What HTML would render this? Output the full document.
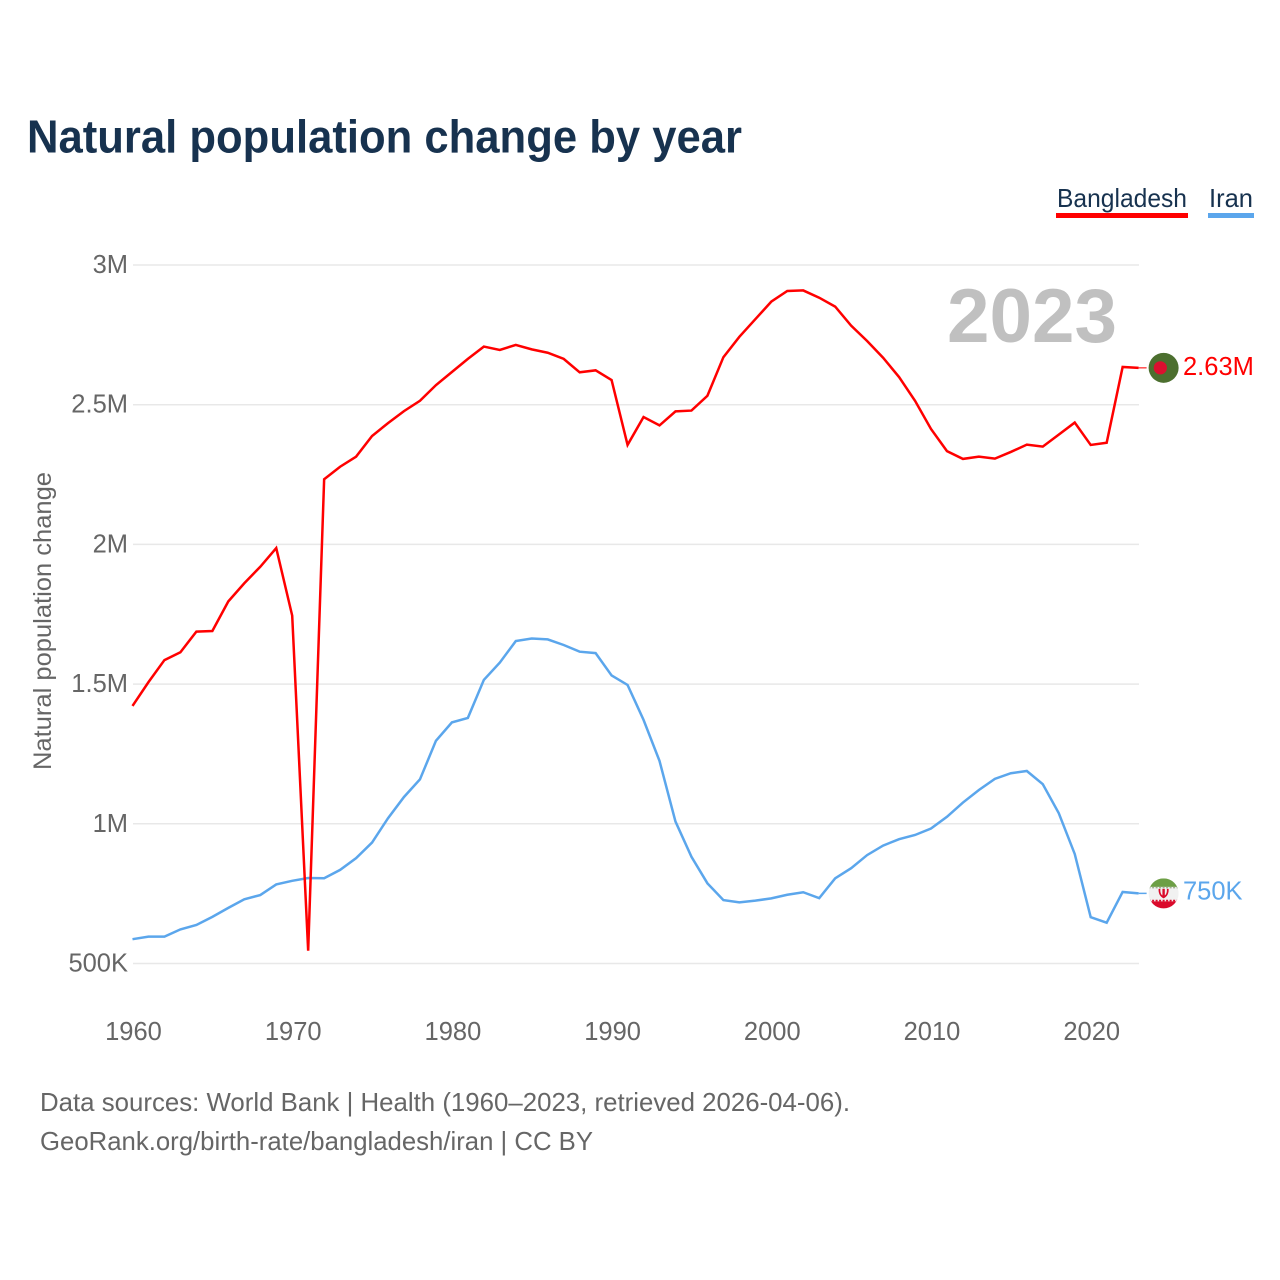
<!DOCTYPE html>
<html lang="en">
<head>
<meta charset="utf-8">
<title>Natural population change by year</title>
<style>
  html, body { margin: 0; padding: 0; background: #fff; }
  svg { display: block; font-family: "Liberation Sans", sans-serif; }
</style>
</head>
<body>
<svg id="chart" xmlns="http://www.w3.org/2000/svg" width="1280" height="1280" viewBox="0 0 1280 1280">
  <rect x="0" y="0" width="1280" height="1280" fill="#ffffff"/>
  <text x="27" y="152.5" font-size="46" font-weight="700" fill="#17324f" textLength="715" lengthAdjust="spacingAndGlyphs">Natural population change by year</text>

  <g>
    <text x="1057" y="207" font-size="26" fill="#17324f" textLength="130" lengthAdjust="spacingAndGlyphs">Bangladesh</text>
    <rect x="1056" y="213" width="132" height="5" fill="#ff0000"/>
  </g>
  <g>
    <text x="1209" y="207" font-size="26" fill="#17324f" textLength="44" lengthAdjust="spacingAndGlyphs">Iran</text>
    <rect x="1208" y="213" width="46" height="5" fill="#5ba6ec"/>
  </g>

  <g id="grid"></g>
  <g id="y-ticks"></g>
  <g id="x-ticks"></g>

  <text transform="translate(51 770) rotate(-90)" x="0" y="0" font-size="25" fill="#666666" textLength="298" lengthAdjust="spacingAndGlyphs">Natural population change</text>

  <text x="947" y="342" font-size="76" font-weight="700" fill="#c0c0c0" textLength="170" lengthAdjust="spacingAndGlyphs">2023</text>

  <g id="series"></g>
  <g id="end-markers"></g>

  <g>
    <text x="40" y="1111" font-size="26" fill="#666666" textLength="810" lengthAdjust="spacingAndGlyphs">Data sources: World Bank | Health (1960–2023, retrieved 2026-04-06).</text>
    <text x="40" y="1150" font-size="26" fill="#666666" textLength="553" lengthAdjust="spacingAndGlyphs">GeoRank.org/birth-rate/bangladesh/iran | CC BY</text>
  </g>
</svg>

<script>
// Chart data (values in thousands of people)
const startYear = 1960;
const bangladeshValues = [
  1422, 1507, 1586, 1614, 1688, 1690, 1796, 1861, 1920, 1987,
  1745, 546, 2233, 2278, 2314, 2388, 2434, 2477, 2514, 2570,
  2617, 2664, 2708, 2696, 2714, 2698, 2686, 2664, 2616, 2623,
  2588, 2356, 2456, 2426, 2476, 2479, 2532, 2670, 2743, 2806,
  2869, 2907, 2909, 2883, 2851, 2783, 2728, 2668, 2599, 2514,
  2413, 2334, 2306, 2314, 2307, 2331, 2357, 2350, 2393, 2436,
  2356, 2364, 2635, 2632
];
const iranValues = [
  587, 596, 596, 622, 638, 667, 699, 730, 745, 783,
  796, 806, 805, 835, 877, 933, 1020, 1096, 1159, 1297,
  1363, 1379, 1515, 1577, 1654, 1663, 1660, 1640, 1616, 1611,
  1531, 1497, 1372, 1225, 1008, 882, 787, 727, 719, 725,
  733, 746, 755, 734, 805, 841, 888, 922, 945, 960,
  983, 1025, 1076, 1121, 1161, 1181, 1189, 1142, 1038, 892,
  666, 646, 756, 751
];
const yTickValues = [500, 1000, 1500, 2000, 2500, 3000];
const yTickLabels = ["500K", "1M", "1.5M", "2M", "2.5M", "3M"];
const xTickValues = [1960, 1970, 1980, 1990, 2000, 2010, 2020];
const xTickLabels = ["1960", "1970", "1980", "1990", "2000", "2010", "2020"];
const bangladeshEndLabel = "2.63M";
const iranEndLabel = "750K";

// Axis functions
function xScale(year) {
  return 132.5 + (year - 1960) * 15.97;
}
function yScale(value) {
  return 265 + (3000 - value) * 0.2794;
}

const NS = "http://www.w3.org/2000/svg";
function make(tag, attrs, parent) {
  const el = document.createElementNS(NS, tag);
  for (const k in attrs) el.setAttribute(k, attrs[k]);
  parent.appendChild(el);
  return el;
}

const gridGroup = document.getElementById("grid");
const yTickGroup = document.getElementById("y-ticks");
const xTickGroup = document.getElementById("x-ticks");
const seriesGroup = document.getElementById("series");
const markerGroup = document.getElementById("end-markers");

yTickValues.forEach(function (v, i) {
  const line = make("line", { x1: 133, x2: 1139, y1: yScale(v), y2: yScale(v), stroke: "#e8e8e8", "stroke-width": 1.5 }, gridGroup);
  
  
  const label = make("text", { x: 128, y: yScale(v) + 8, "text-anchor": "end", "font-size": 25.5, fill: "#666666" }, yTickGroup);
  
  
  label.textContent = yTickLabels[i];
});

xTickValues.forEach(function (v, i) {
  const label = make("text", { x: xScale(v) + 1, y: 1040, "text-anchor": "middle", "font-size": 25.5, fill: "#666666" }, xTickGroup);
  
  
  label.textContent = xTickLabels[i];
});

function linePoints(values) {
  return values.map(function (v, i) {
    return xScale(startYear + i).toFixed(2) + "," + yScale(v).toFixed(2);
  }).join(" ");
}

const iranLine = make("polyline", { points: linePoints(iranValues), fill: "none", stroke: "#5ba6ec", "stroke-width": 2.5, "stroke-linejoin": "miter" }, seriesGroup);



const bangladeshLine = make("polyline", { points: linePoints(bangladeshValues), fill: "none", stroke: "#ff0000", "stroke-width": 2.5, "stroke-linejoin": "miter" }, seriesGroup);



// End markers follow the final value of each series
const lastYear = startYear + bangladeshValues.length - 1;
const markerX = xScale(lastYear) + 25;
const bdY = yScale(bangladeshValues[bangladeshValues.length - 1]);
const irY = yScale(iranValues[iranValues.length - 1]);

const bdConnector = make("line", { x1: xScale(lastYear), x2: markerX - 17, y1: bdY, y2: bdY, stroke: "#ff0000", "stroke-width": 1.5, opacity: 0.7 }, markerGroup);



const irConnector = make("line", { x1: xScale(lastYear), x2: markerX - 17, y1: irY, y2: irY, stroke: "#5ba6ec", "stroke-width": 1.5 }, markerGroup);



// Bangladesh flag
const bdFlag = make("g", { transform: "translate(" + markerX + " " + bdY + ")" }, markerGroup);


make("circle", { cx: 0, cy: 0, r: 15, fill: "#4c6f2f" }, bdFlag);
make("circle", { cx: -3.3, cy: 0, r: 6.6, fill: "#dc0f2f" }, bdFlag);

// Iran flag
const irFlag = make("g", { transform: "translate(" + markerX + " " + irY + ")" }, markerGroup);


const clipDef = make("clipPath", { id: "iran-clip" }, irFlag);
make("circle", { cx: 0, cy: 0, r: 15 }, clipDef);
const irBands = make("g", { "clip-path": "url(#iran-clip)" }, irFlag);
make("rect", { x: -15, y: -15, width: 30, height: 30, fill: "#f1f1f1" }, irBands);
make("rect", { x: -15, y: -15, width: 30, height: 8.5, fill: "#6d9f45" }, irBands);
make("line", { x1: -15, x2: 15, y1: -5.8, y2: -5.8, stroke: "#9fb08f", "stroke-width": 1.6, "stroke-dasharray": "2 1.5" }, irBands);
make("rect", { x: -15, y: 8, width: 30, height: 8, fill: "#da0a2b" }, irBands);
make("line", { x1: -15, x2: 15, y1: 7.2, y2: 7.2, stroke: "#da0a2b", "stroke-width": 1.6, "stroke-dasharray": "2 1.5" }, irBands);
make("path", { d: "M-5 -4.5 C-5.5 1 -2.5 4 0 5 C2.5 4 5.5 1 5 -4.5 L3.2 -4.5 C3.6 -1 2.4 1.2 1.2 2 L1.2 -4.5 L-1.2 -4.5 L-1.2 2 C-2.4 1.2 -3.6 -1 -3.2 -4.5 Z", fill: "#da0a2b" }, irBands);

const bdLabel = make("text", { x: 1183, y: bdY + 7, "font-size": 25.5, fill: "#ff0000" }, markerGroup);


bdLabel.textContent = bangladeshEndLabel;

const irLabel = make("text", { x: 1183, y: irY + 6, "font-size": 25.5, fill: "#5ba6ec" }, markerGroup);


irLabel.textContent = iranEndLabel;
</script>
</body>
</html>
